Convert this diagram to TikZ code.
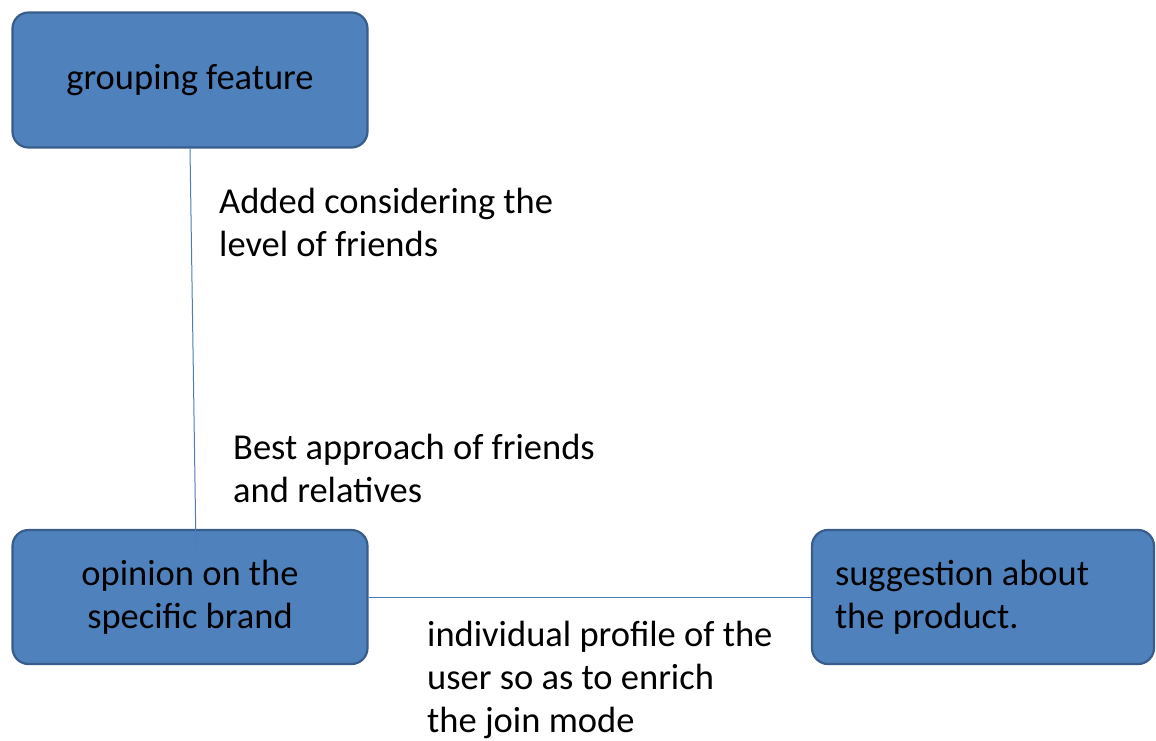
\documentclass[tikz,border=0pt]{standalone}
\usepackage{fontspec}
\setmainfont{Carlito}
\usepackage{tikz}
\usetikzlibrary{positioning}

\definecolor{boxfill}{HTML}{4F81BD}
\definecolor{boxline}{HTML}{385D8A}
\definecolor{linkline}{HTML}{4A7EBB}

\begin{document}
\begin{tikzpicture}[
  x=1pt, y=-1pt,
  box/.style={draw=boxline, line width=2.2pt, fill=boxfill,
              rounded corners=16pt, inner sep=0pt,
              font=\fontsize{36.5}{43}\selectfont},
  note/.style={anchor=west, align=left, inner sep=0pt,
               font=\fontsize{36.5}{43}\selectfont},
  link/.style={draw=linkline, line width=1pt},
]
  \useasboundingbox (0,0) rectangle (1156,740);

  % Boxes
  \node[box, minimum width=355pt, minimum height=135pt]
    (group) at (190,80) {grouping feature};
  \node[box, minimum width=355pt, minimum height=134pt, align=center]
    (opinion) at (190,597) {opinion on the\\specific brand};
  \node[box, minimum width=342pt, minimum height=134pt,
        align=flush left, text width=296pt]
    (suggest) at (983,597) {suggestion about\\the product.};

  % Connectors
  \draw[link] (group.south) -- ([xshift=6pt, yshift=-20pt]opinion.north);
  \draw[link] (opinion.east) -- (suggest.west);

  % Labels
  \node[note] (lblgroup) at (219,222)
    {Added considering the\\level of friends};
  \node[note] (lblfriends) at (233,468)
    {Best approach of friends\\and relatives};
  \node[note] (lblprofile) at (427,680)
    {individual profile of the\\user so as to enrich\\the join mode};

\end{tikzpicture}
\end{document}
